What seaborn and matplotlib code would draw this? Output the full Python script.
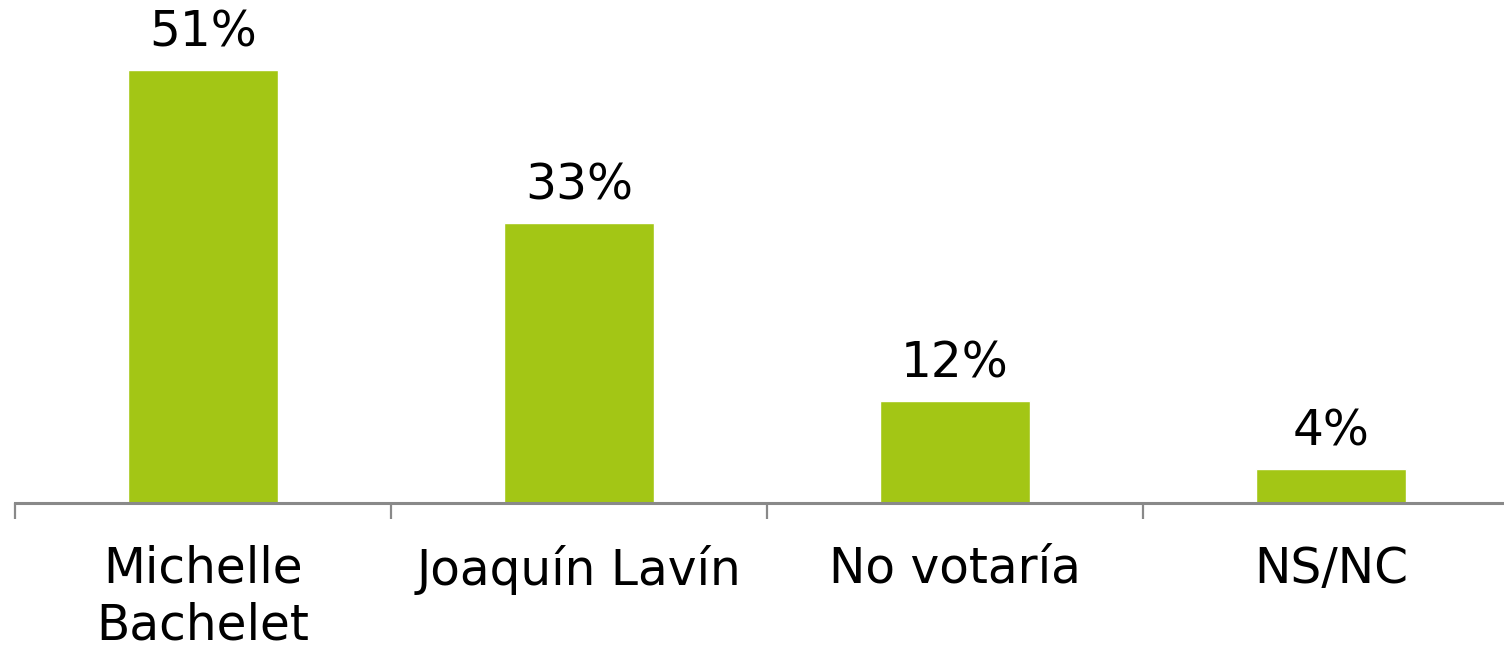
import matplotlib
matplotlib.use("Agg")
import matplotlib.pyplot as plt
import seaborn as sns
import pandas as pd

categories = ["Michelle\nBachelet", "Joaquín Lavín", "No votaría", "NS/NC"]
values = [51, 33, 12, 4]
value_labels = ["51%", "33%", "12%", "4%"]

sns.set_theme(style="white")
plt.rcParams['font.family'] = ['DejaVu Sans']

df = pd.DataFrame({"cat": categories, "val": values})

fig = plt.figure(figsize=(15.04, 6.47), dpi=100)
ax = fig.add_axes([15/1504, (647-503)/647, (1504-15)/1504, 503/647])
sns.barplot(data=df, x="cat", y="val", color="#A3C615", width=0.4,
            saturation=1, ax=ax)

ax.set_xlim(-0.5, 3.46)
ax.set_ylim(0, 59.25)
for s in ["top", "right", "left"]:
    ax.spines[s].set_visible(False)
ax.spines["bottom"].set_color("#898989")
ax.spines["bottom"].set_linewidth(2.2)
ax.set_yticks([])
ax.set_xlabel("")
ax.set_ylabel("")

ax.set_xticks(range(len(categories)))
ax.set_xticklabels(categories, fontsize=35, color="black", linespacing=1.22)
ax.tick_params(axis="x", which="major", bottom=True, length=0, pad=30)
ax.set_xticks([-0.5, 0.5, 1.5, 2.5], minor=True)
ax.tick_params(axis="x", which="minor", bottom=True, length=11.5, width=1.6,
               color="#898989", direction="out")

for i, (v, lab) in enumerate(zip(values, value_labels)):
    ax.annotate(lab, (i, v), xytext=(0, 17), textcoords="offset points",
                ha="center", va="baseline", fontsize=35, color="black")

fig.savefig("out.png", dpi=100)
